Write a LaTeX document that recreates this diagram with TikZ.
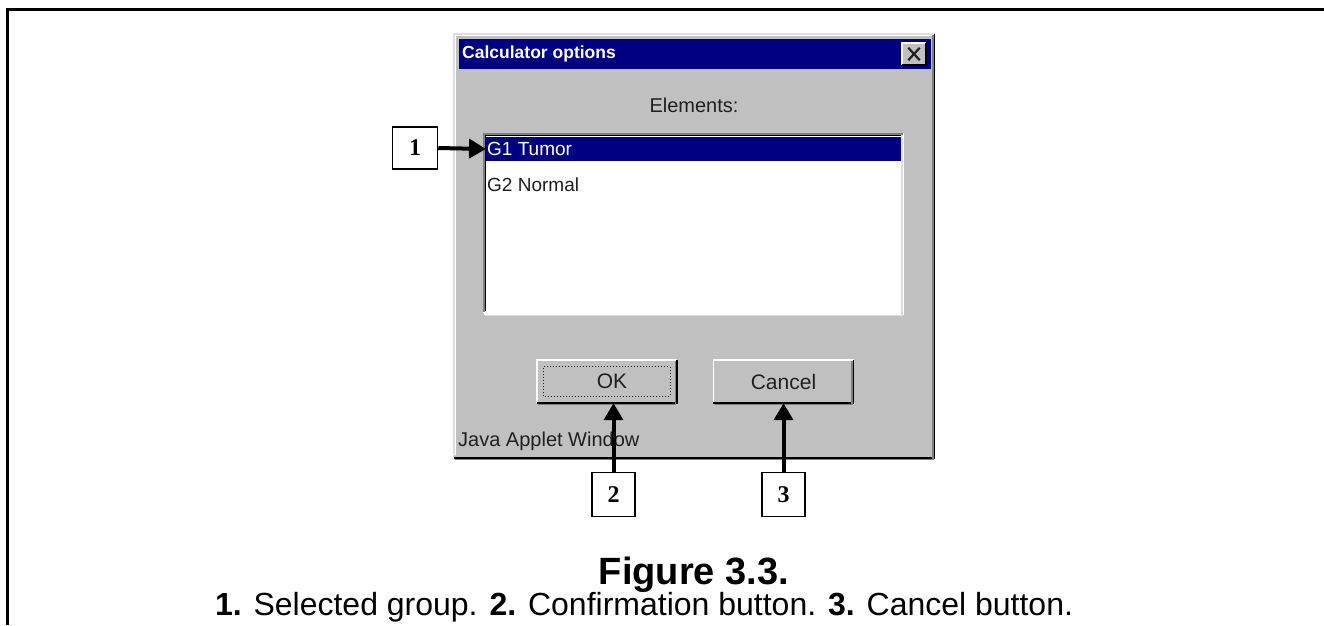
\documentclass[tikz,border=0pt]{standalone}
\usepackage{fontspec}
\setmainfont{Liberation Sans}
\newfontfamily\numfont{Liberation Serif}
\usetikzlibrary{arrows.meta}
\definecolor{winbg}{HTML}{C0C0C0}
\definecolor{navy}{HTML}{000080}
\definecolor{dkgray}{HTML}{808080}
\definecolor{ltgray}{HTML}{DFDFDF}
\definecolor{txtgray}{HTML}{202020}
\tikzset{
  box/.style={inner sep=0pt, outer sep=0pt, anchor=north west},
  numbox/.style={draw=black, line width=1.5pt, fill=white, inner sep=0pt,
    minimum width=43pt, minimum height=44pt,
    font=\numfont\bfseries\fontsize{24}{24}\selectfont},
  callout/.style={line width=4pt, -{Triangle[length=17pt,width=19pt]}},
  button/.style={fill=winbg, inner sep=0pt, minimum width=140pt, minimum height=43pt,
    text=txtgray, font=\fontsize{21}{21}\selectfont},
  uitext/.style={inner sep=0pt, text=txtgray, font=\fontsize{19}{19}\selectfont},
  bevel/.style={line width=1.5pt},
}
\begin{document}
\begin{tikzpicture}[x=1pt,y=-1pt]
\useasboundingbox (0,0) rectangle (1324,625);
\fill[white] (0,0) rectangle (1324,625);
% outer frame (top and left only)
\draw[line width=3pt] (7,625) -- (7,9) -- (1324,9);

% window
\node[box, fill=winbg, minimum width=482pt, minimum height=424pt] (win) at (453,33) {};
\draw[bevel, ltgray] ([shift={(0.75,-0.75)}]win.south west) |- ([shift={(-0.75,0.75)}]win.north east);
\draw[bevel, white] ([shift={(2.25,-2.25)}]win.south west) |- ([shift={(-2.25,2.25)}]win.north east);
\draw[bevel, black] ([shift={(0.75,0.75)}]win.south west) -| ([shift={(-0.75,0.75)}]win.north east);
\draw[bevel, dkgray] ([shift={(2.25,2.25)}]win.south west) -| ([shift={(-2.25,2.25)}]win.north east);

% title bar
\node[box, fill=navy, minimum width=472pt, minimum height=30pt] (title) at (459,39) {};
\node[inner sep=0pt, anchor=west, text=white, font=\bfseries\fontsize{17.5}{17.5}\selectfont] (titletext) at (462,54) {Calculator options};
\node[fill=winbg, inner sep=0pt, minimum width=24pt, minimum height=22pt] (close) at (914,54) {};
\draw[bevel, white] (close.south west) |- (close.north east);
\draw[bevel, black] (close.south west) -| (close.north east);
\draw[line width=2.2pt, txtgray] ([shift={(6.5,5)}]close.north west) -- ([shift={(-6.5,-5)}]close.south east);
\draw[line width=2.2pt, txtgray] ([shift={(6.5,-5)}]close.south west) -- ([shift={(-6.5,5)}]close.north east);

% label
\node[uitext, font=\fontsize{20}{20}\selectfont] (elements) at (694,105) {Elements:};

% list box
\node[box, fill=white, minimum width=421pt, minimum height=180pt] (list) at (483,133) {};
\draw[bevel, dkgray] ([shift={(0.75,-0.75)}]list.south west) |- ([shift={(-0.75,0.75)}]list.north east);
\draw[bevel, black] ([shift={(2.25,-2.25)}]list.south west) |- ([shift={(-2.25,2.25)}]list.north east);
\draw[bevel, white] ([shift={(0.75,0.75)}]list.south west) -| ([shift={(-0.75,0.75)}]list.north east);
\draw[bevel, ltgray] ([shift={(2.25,2.25)}]list.south west) -| ([shift={(-2.25,2.25)}]list.north east);
\node[box, fill=navy, minimum width=415pt, minimum height=24pt] (row1) at (486,137) {};
\node[uitext, anchor=west, text=white] (g1) at (487,149) {G1 Tumor};
\node[uitext, anchor=west] (g2) at (487,185) {G2 Normal};

% buttons
\node[button] (ok) at (607,381.5) {\hspace*{10pt}OK};
\draw[bevel, white] (ok.south west) |- (ok.north east);
\draw[bevel, black] (ok.south west) -| (ok.north east);
\draw[bevel, dkgray] ([shift={(1.5,1.5)}]ok.south west) -| ([shift={(-1.5,1.5)}]ok.north east);
\draw[dotted, line width=1pt, txtgray] ([shift={(7,-7)}]ok.south west) rectangle ([shift={(-7,7)}]ok.north east);

\node[button] (cancel) at (783.5,381.5) {Cancel};
\draw[bevel, white] (cancel.south west) |- (cancel.north east);
\draw[bevel, black] (cancel.south west) -| (cancel.north east);
\draw[bevel, dkgray] ([shift={(1.5,1.5)}]cancel.south west) -| ([shift={(-1.5,1.5)}]cancel.north east);

\node[uitext, anchor=west, font=\fontsize{20}{20}\selectfont] (java) at (458,441) {Java Applet Window};

% callouts
\node[numbox, minimum width=45pt, minimum height=42pt] (b1) at (415,148) {1};
\node[numbox] (b2) at (613.5,494.5) {2};
\node[numbox] (b3) at (783.5,494.5) {3};
\draw[callout] (b1.east) -- (row1.west);
\draw[callout] (b2.north) -- (b2.north |- ok.south);
\draw[callout] (b3.north) -- (b3.north |- cancel.south);

% caption
\node[inner sep=0pt, anchor=base, font=\bfseries\fontsize{38}{38}\selectfont] (fig) at (694,584) {Figure 3.3.};
\node[inner sep=0pt, anchor=base, font=\fontsize{32}{32}\selectfont] (cap) at (644,615) {\textbf{1.} Selected group. \textbf{2.} Confirmation button. \textbf{3.} Cancel button.};
\end{tikzpicture}
\end{document}
